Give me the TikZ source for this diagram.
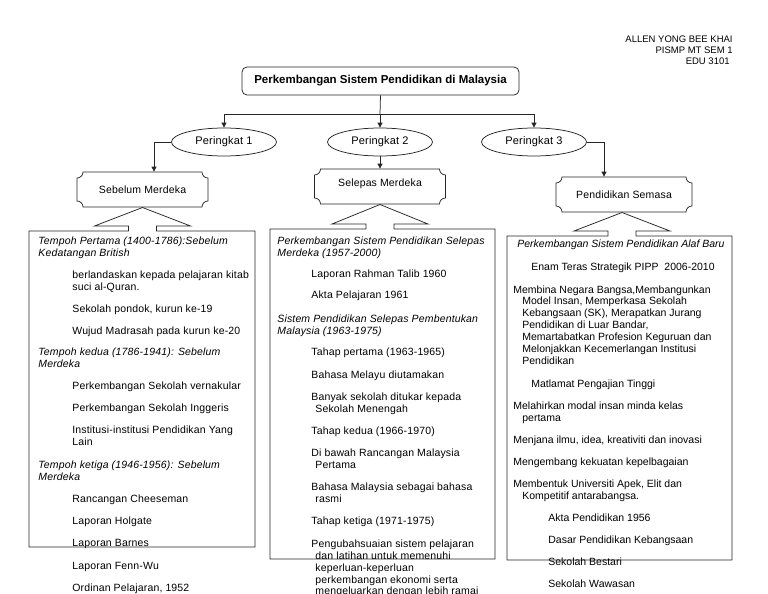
\documentclass[tikz,border=0pt]{standalone}
\usepackage{fontspec}
\setmainfont{Liberation Sans}
\newfontfamily\spacedfont{Liberation Sans}[LetterSpace=1.5]
\usetikzlibrary{arrows.meta,shapes.geometric,calc}
\newcommand\plaquedraw[4]{%
 \draw (#1+6,#2) -- (#3-6,#2) .. controls (#3-6,#2+3.3) and (#3-3.3,#2+6) .. (#3,#2+6)
 -- (#3,#4-6) .. controls (#3-3.3,#4-6) and (#3-6,#4-3.3) .. (#3-6,#4)
 -- (#1+6,#4) .. controls (#1+6,#4-3.3) and (#1+3.3,#4-6) .. (#1,#4-6)
 -- (#1,#2+6) .. controls (#1+3.3,#2+6) and (#1+6,#2+3.3) .. (#1+6,#2) -- cycle;}
\newcommand\calloutdraw[6]{%
 \draw (#5-14,#2) -- (#5-14,#2-5) -- (#5-48,#2-5) -- (#5,#6) -- (#5+48,#2-5)
 -- (#5+14,#2-5) -- (#5+14,#2) -- (#3,#2) -- (#3,#4) -- (#1,#4) -- (#1,#2) -- cycle;}
\begin{document}
\begin{tikzpicture}[x=1pt,y=-1pt,
  line width=0.75pt, draw=black!85,
  arr/.style={-{Triangle[length=5pt,width=5pt]}},
  body/.style={anchor=mid west, inner sep=0pt, font=\spacedfont\fontsize{10.5}{12}\selectfont},
  hdr/.style={anchor=mid west, inner sep=0pt, font=\spacedfont\fontsize{10.5}{12}\selectfont\itshape},
  bodyc/.style={anchor=mid west, inner sep=0pt, font=\fontsize{10.5}{12}\selectfont},
  hdrc/.style={anchor=mid west, inner sep=0pt, font=\fontsize{10.5}{12}\selectfont\itshape},
  peri/.style={ellipse, draw, minimum width=105pt, minimum height=28pt, inner sep=0pt, font=\spacedfont\fontsize{11}{13}\selectfont},
  plq/.style={minimum width=131pt, minimum height=35pt, inner sep=0pt, font=\spacedfont\fontsize{10.5}{12}\selectfont},
  tbox/.style={inner sep=0pt},
  auth/.style={anchor=mid east, inner sep=0pt, font=\fontsize{9.5}{11}\selectfont},
]
\useasboundingbox (0,0) rectangle (768,594);

% author
\node[auth] (au1) at (733,40) {ALLEN YONG BEE KHAI};
\node[auth] (au2) at (733,51) {PISMP MT SEM 1};
\node[auth] (au3) at (730,62) {EDU 3101};

% title
\node[draw, rounded corners=5pt, minimum width=277pt, minimum height=28pt, inner sep=0pt,
      font=\fontsize{11.5}{13}\selectfont\bfseries] (title) at (380.5,81)
      {Perkembangan Sistem Pendidikan di Malaysia};

% levels
\node[peri] (e1) at (224,142) {Peringkat 1};
\node[peri] (e2) at (380,142) {Peringkat 2};
\node[peri] (e3) at (534,142) {Peringkat 3};

\coordinate (j) at (380,114);
\draw (title.south) -- (j);
\draw[arr] (j) -| (e1.north);
\draw[arr] (j) -- (e2.north);
\draw[arr] (j) -| (e3.north);

% plaques
\node[plq] (b1) at (142.5,189.5) {Sebelum Merdeka};
\node[plq, text depth=8pt] (b2) at (380,186.5) {Selepas Merdeka};
\node[plq, minimum width=136pt] (b3) at (624,194.5) {Pendidikan Semasa};
\plaquedraw{77}{172}{208}{207}
\plaquedraw{314.5}{169}{445.5}{204}
\plaquedraw{556}{177}{692}{212}

\draw[arr] (e1.west) -| ([xshift=11.5pt]b1.north);
\draw[arr] (e2.south) -- (b2.north);
\draw[arr] (e3.east) -| ([xshift=-20pt]b3.north);

% text boxes with up-arrow callouts
\node[tbox, minimum width=226pt, minimum height=316pt] (tb1) at (142,389) {};
\node[tbox, minimum width=225pt, minimum height=330pt] (tb2) at (382.5,394) {};
\node[tbox, minimum width=225pt, minimum height=324pt] (tb3) at (619.5,398) {};
\calloutdraw{29}{231}{255}{547}{142.5}{207.5}
\calloutdraw{270}{229}{495}{559}{380}{204.5}
\calloutdraw{507}{236}{732}{560}{622}{212.5}

% column 1
\node[hdr]  (p1) at (38,242) {Tempoh Pertama (1400-1786):Sebelum};
\node[hdr]  (p2) at (38,254) {Kedatangan British};
\node[body] (p3) at (72,276) {berlandaskan kepada pelajaran kitab};
\node[body] (p4) at (72,288) {suci al-Quran.};
\node[body] (p5) at (72,310) {Sekolah pondok, kurun ke-19};
\node[body] (p6) at (72,332) {Wujud Madrasah pada kurun ke-20};
\node[hdr]  (p7) at (38,353) {Tempoh kedua (1786-1941): Sebelum};
\node[hdr]  (p8) at (38,365) {Merdeka};
\node[body] (p9) at (72,387) {Perkembangan Sekolah vernakular};
\node[body] (p10) at (72,409) {Perkembangan Sekolah Inggeris};
\node[body] (p11) at (72,431) {Institusi-institusi Pendidikan Yang};
\node[body] (p12) at (72,443) {Lain};
\node[hdr]  (p13) at (38,466) {Tempoh ketiga (1946-1956): Sebelum};
\node[hdr]  (p14) at (38,478) {Merdeka};
\node[body] (p15) at (72,500) {Rancangan Cheeseman};
\node[body] (p16) at (72,522) {Laporan Holgate};
\node[body] (p17) at (72,544) {Laporan Barnes};
\node[body] (p18) at (72,567) {Laporan Fenn-Wu};
\node[body] (p19) at (72,589) {Ordinan Pelajaran, 1952};

% column 2
\node[hdr]  (q1) at (277,242) {Perkembangan Sistem Pendidikan Selepas};
\node[hdr]  (q2) at (277,254) {Merdeka (1957-2000)};
\node[body] (q3) at (311,275) {Laporan Rahman Talib 1960};
\node[body] (q4) at (311,296) {Akta Pelajaran 1961};
\node[hdr]  (q5) at (277,320) {Sistem Pendidikan Selepas Pembentukan};
\node[hdr]  (q6) at (277,332) {Malaysia (1963-1975)};
\node[body] (q7) at (311,353) {Tahap pertama (1963-1965)};
\node[body] (q8) at (311,376) {Bahasa Melayu diutamakan};
\node[body] (q9) at (311,398) {Banyak sekolah ditukar kepada};
\node[body] (q10) at (315,410) {Sekolah Menengah};
\node[body] (q11) at (311,432) {Tahap kedua (1966-1970)};
\node[body] (q12) at (311,454) {Di bawah Rancangan Malaysia};
\node[body] (q13) at (315,466) {Pertama};
\node[body] (q14) at (311,488) {Bahasa Malaysia sebagai bahasa};
\node[body] (q15) at (315,500) {rasmi};
\node[body] (q16) at (311,522) {Tahap ketiga (1971-1975)};
\node[body] (q17) at (311,545) {Pengubahsuaian sistem pelajaran};
\node[body] (q18) at (315,557) {dan latihan untuk memenuhi};
\node[body] (q19) at (315,569) {keperluan-keperluan};
\node[body] (q20) at (315,581) {perkembangan ekonomi serta};
\node[body] (q21) at (315,591.5) {mengeluarkan dengan lebih ramai};

% column 3
\node[hdrc]  (r1) at (517,245) {Perkembangan Sistem Pendidikan Alaf Baru};
\node[bodyc] (r2) at (531,268) {Enam Teras Strategik PIPP\ \ 2006-2010};
\node[bodyc] (r3) at (513,291) {Membina Negara Bangsa,Membangunkan};
\node[bodyc] (r4) at (522,302) {Model Insan, Memperkasa Sekolah};
\node[bodyc] (r5) at (522,314) {Kebangsaan (SK), Merapatkan Jurang};
\node[bodyc] (r6) at (522,326) {Pendidikan di Luar Bandar,};
\node[bodyc] (r7) at (522,338) {Memartabatkan Profesion Keguruan dan};
\node[bodyc] (r8) at (522,350) {Melonjakkan Kecemerlangan Institusi};
\node[bodyc] (r9) at (522,362) {Pendidikan};
\node[bodyc] (r10) at (531,385) {Matlamat Pengajian Tinggi};
\node[bodyc] (r11) at (513,407) {Melahirkan modal insan minda kelas};
\node[bodyc] (r12) at (522,419) {pertama};
\node[bodyc] (r13) at (513,441) {Menjana ilmu, idea, kreativiti dan inovasi};
\node[bodyc] (r14) at (513,463) {Mengembang kekuatan kepelbagaian};
\node[bodyc] (r15) at (513,485) {Membentuk Universiti Apek, Elit dan};
\node[bodyc] (r16) at (522,497) {Kompetitif antarabangsa.};
\node[bodyc] (r17) at (548,519) {Akta Pendidikan 1956};
\node[bodyc] (r18) at (548,541) {Dasar Pendidikan Kebangsaan};
\node[bodyc] (r19) at (548,563) {Sekolah Bestari};
\node[bodyc] (r20) at (548,585) {Sekolah Wawasan};
\end{tikzpicture}
\end{document}
